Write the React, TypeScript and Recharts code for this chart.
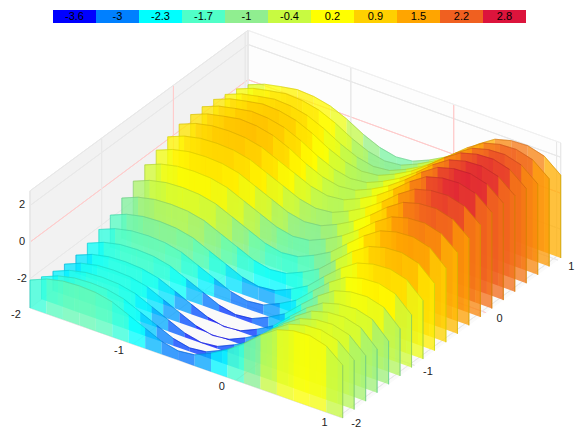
import React from 'react';
import { ComposedChart, Area, XAxis, YAxis, ReferenceArea, ReferenceDot } from 'recharts';

const xValues = [-2, -1.84, -1.68, -1.52, -1.36, -1.2, -1.04, -0.88, -0.72, -0.56, -0.4, -0.24, -0.08, 0.08, 0.24, 0.4, 0.56, 0.72, 0.88, 1.04];
const yValues = xValues;

// one row per ribbon, front (y = -2) to back
const zRows = [
  [-2.07, -1.70, -1.50, -1.45, -1.50, -1.70, -2.10, -2.50, -2.90, -3.10, -3.00, -2.60, -2.10, -1.45, -0.70, -0.10, 0.15, 0.20, -0.05, -0.77],
  [-2.37, -2.00, -1.80, -1.75, -1.80, -2.00, -2.40, -2.80, -3.20, -3.40, -3.30, -2.90, -2.40, -1.60, -0.85, -0.25, 0.00, 0.05, -0.20, -0.95],
  [-2.54, -2.17, -1.97, -1.92, -1.97, -2.17, -2.57, -2.97, -3.37, -3.57, -3.47, -3.07, -2.57, -1.75, -1.00, -0.40, -0.15, -0.10, -0.35, -1.15],
  [-2.62, -2.25, -2.05, -2.00, -2.05, -2.25, -2.65, -3.05, -3.45, -3.65, -3.55, -3.15, -2.65, -1.82, -1.05, -0.45, -0.20, -0.15, -0.40, -1.25],
  [-2.60, -2.24, -2.05, -2.00, -2.06, -2.26, -2.65, -3.05, -3.44, -3.64, -3.55, -3.15, -2.64, -1.82, -1.05, -0.46, -0.21, -0.15, -0.40, -1.27],
  [-2.42, -2.05, -1.85, -1.80, -1.85, -2.05, -2.45, -2.85, -3.25, -3.45, -3.35, -2.95, -2.45, -1.62, -0.85, -0.25, 0.00, 0.05, -0.20, -1.05],
  [-2.14, -1.77, -1.57, -1.52, -1.57, -1.77, -2.17, -2.57, -2.97, -3.17, -3.07, -2.67, -2.17, -1.35, -0.57, 0.03, 0.28, 0.33, 0.08, -0.75],
  [-1.82, -1.45, -1.25, -1.20, -1.25, -1.45, -1.85, -2.25, -2.65, -2.85, -2.75, -2.35, -1.85, -1.02, -0.25, 0.35, 0.60, 0.65, 0.40, -0.42],
  [-1.35, -0.98, -0.78, -0.73, -0.78, -0.98, -1.38, -1.78, -2.18, -2.38, -2.28, -1.88, -1.38, -0.58, 0.20, 0.80, 1.05, 1.10, 0.85, 0.05],
  [-0.89, -0.52, -0.32, -0.27, -0.32, -0.52, -0.92, -1.32, -1.72, -1.92, -1.82, -1.42, -0.92, -0.15, 0.60, 1.20, 1.45, 1.50, 1.25, 0.45],
  [-0.46, -0.09, 0.11, 0.16, 0.11, -0.09, -0.49, -0.89, -1.29, -1.49, -1.39, -0.99, -0.49, 0.16, 0.91, 1.51, 1.76, 1.81, 1.56, 0.84],
  [-0.12, 0.25, 0.45, 0.50, 0.45, 0.25, -0.15, -0.55, -0.95, -1.15, -1.05, -0.65, -0.15, 0.50, 1.25, 1.85, 2.10, 2.15, 1.90, 1.18],
  [0.15, 0.52, 0.72, 0.77, 0.72, 0.52, 0.12, -0.28, -0.68, -0.88, -0.78, -0.38, 0.12, 0.77, 1.52, 2.12, 2.37, 2.42, 2.17, 1.45],
  [0.38, 0.75, 0.95, 1.00, 0.95, 0.75, 0.35, -0.05, -0.45, -0.65, -0.55, -0.15, 0.35, 1.00, 1.75, 2.35, 2.60, 2.65, 2.40, 1.68],
  [0.44, 0.81, 1.01, 1.18, 1.13, 0.93, 0.53, 0.01, -0.39, -0.59, -0.49, -0.09, 0.41, 1.06, 1.81, 2.41, 2.66, 2.71, 2.46, 1.74],
  [0.40, 0.77, 0.97, 1.14, 1.09, 0.89, 0.49, -0.03, -0.43, -0.63, -0.53, -0.13, 0.37, 1.02, 1.77, 2.37, 2.62, 2.67, 2.42, 1.70],
  [0.33, 0.70, 0.90, 1.07, 1.02, 0.82, 0.42, -0.10, -0.50, -0.70, -0.60, -0.20, 0.30, 0.95, 1.70, 2.30, 2.55, 2.60, 2.35, 1.63],
  [0.13, 0.50, 0.70, 0.87, 0.82, 0.62, 0.22, -0.30, -0.70, -0.90, -0.80, -0.40, 0.10, 0.75, 1.50, 2.10, 2.35, 2.40, 2.15, 1.43],
  [-0.04, 0.33, 0.53, 0.70, 0.65, 0.45, 0.05, -0.47, -0.87, -1.07, -0.97, -0.57, -0.07, 0.58, 1.33, 1.93, 2.18, 2.23, 1.98, 1.26],
  [-0.29, 0.08, 0.28, 0.45, 0.40, 0.20, -0.20, -0.72, -1.12, -1.32, -1.22, -0.82, -0.32, 0.33, 1.08, 1.68, 1.93, 1.98, 1.73, 1.01],
];

const legendValues = [-3.6, -3, -2.3, -1.7, -1, -0.4, 0.2, 0.9, 1.5, 2.2, 2.8];
const legendColors = ['#0000ff', '#0080ff', '#00ffff', '#50ffc8', '#90ee90', '#c8fa41', '#ffff00', '#ffd000', '#ffa500', '#f06020', '#dc143c'];

const xTicks = [-2, -1, 0, 1];
const yTicks = [-2, -1, 0, 1];
const zTicks = [-2, 0, 2];

const W = 582;
const H = 437;
const X_MIN = -2;
const SPAN = 3.04;
const Z_MIN = -3.6;
const Z_MAX = 2.8;

// floor corners and vertical scale of the 3d box as seen on screen
const A = { x: 30, y: 308, s: 18.3 };
const B = { x: 342.7, y: 418, s: 18.7 };
const C = { x: 560.7, y: 258, s: 18 };
const D = { x: 248, y: 143, s: 17.6 };

function bilerp(u: number, v: number, key: 'x' | 'y' | 's') {
  return (A[key] * (1 - u) + B[key] * u) * (1 - v) + (D[key] * (1 - u) + C[key] * u) * v;
}

function project(x: number, y: number, z: number) {
  const u = (x - X_MIN) / SPAN;
  const v = (y - X_MIN) / SPAN;
  return { px: bilerp(u, v, 'x'), py: bilerp(u, v, 'y') - (z - Z_MIN) * bilerp(u, v, 's') };
}

function hexToRgb(hex: string) {
  return [1, 3, 5].map((i) => parseInt(hex.slice(i, i + 2), 16));
}

function colorFor(z: number, shade = 1) {
  let k = 0;
  while (k < legendValues.length - 2 && z > legendValues[k + 1]) k++;
  const t = Math.max(0, Math.min(1, (z - legendValues[k]) / (legendValues[k + 1] - legendValues[k])));
  const c0 = hexToRgb(legendColors[k]);
  const c1 = hexToRgb(legendColors[k + 1]);
  const rgb = c0.map((c, i) => Math.round((c + (c1[i] - c) * t) * shade));
  return `rgb(${rgb[0]},${rgb[1]},${rgb[2]})`;
}

type Pt = { px: number; band: [number, number] };

// a straight line drawn as a zero-height area so it keeps its paint order
function line3d(a: [number, number, number], b: [number, number, number]): Pt[] {
  const p = project(...a);
  const q = project(...b);
  return [
    { px: p.px, band: [p.py, p.py] },
    { px: q.px, band: [q.py, q.py] },
  ];
}

const renderEdge = (key: string, data: Pt[], stroke: string, opacity = 1) => (
  <Area key={key} data={data} dataKey="band" type="linear" fill="none" stroke={stroke} strokeWidth={1} strokeOpacity={opacity} dot={false} activeDot={false} isAnimationActive={false} />
);

const renderPoly = (key: string, data: Pt[], fill: string, opacity = 1) => (
  <Area key={key} data={data} dataKey="band" type="linear" fill={fill} fillOpacity={opacity} stroke="none" dot={false} activeDot={false} isAnimationActive={false} />
);

function wallQuad(a: { px: number; py: number }, b: { px: number; py: number }, c: { px: number; py: number }, d: { px: number; py: number }): Pt[] {
  return [
    { px: a.px, band: [a.py, b.py] },
    { px: c.px, band: [c.py, d.py] },
  ];
}

function floorPoly(): Pt[] {
  const lerp = (p: { x: number; y: number }, q: { x: number; y: number }, x: number) => p.y + ((q.y - p.y) * (x - p.x)) / (q.x - p.x);
  return [
    { px: A.x, band: [A.y, A.y] },
    { px: D.x, band: [lerp(A, B, D.x), D.y] },
    { px: B.x, band: [B.y, lerp(D, C, B.x)] },
    { px: C.x, band: [C.y, C.y] },
  ];
}

const X_END = xValues[xValues.length - 1];
const GRID = '#e8e8e8';
const ZERO = '#ffcccc';

function boxParts() {
  const parts: React.ReactNode[] = [];
  const lo = Z_MIN;
  const hi = Z_MAX;
  parts.push(renderPoly('wall-left', wallQuad(project(-2, -2, lo), project(-2, -2, hi), project(-2, X_END, lo), project(-2, X_END, hi)), '#f2f2f2'));
  parts.push(renderPoly('wall-back', wallQuad(project(-2, X_END, lo), project(-2, X_END, hi), project(X_END, X_END, lo), project(X_END, X_END, hi)), '#fdfdfd'));
  parts.push(renderPoly('floor', floorPoly(), '#fafafa'));
  zTicks.forEach((z) => {
    const c = z === 0 ? ZERO : GRID;
    parts.push(renderEdge(`zl${z}`, line3d([-2, -2, z], [-2, X_END, z]), c));
    parts.push(renderEdge(`zb${z}`, line3d([-2, X_END, z], [X_END, X_END, z]), c));
  });
  yTicks.forEach((y) => {
    const c = y === 0 ? ZERO : GRID;
    parts.push(renderEdge(`yw${y}`, line3d([-2, y, lo], [-2, y, hi]), c));
    parts.push(renderEdge(`yf${y}`, line3d([-2, y, lo], [X_END, y, lo]), c));
  });
  xTicks.forEach((x) => {
    const c = x === 0 ? ZERO : GRID;
    parts.push(renderEdge(`xw${x}`, line3d([x, X_END, lo], [x, X_END, hi]), c));
    parts.push(renderEdge(`xf${x}`, line3d([x, -2, lo], [x, X_END, lo]), c));
  });
  // box outline
  parts.push(renderEdge('o1', line3d([-2, -2, lo], [-2, -2, hi]), GRID));
  parts.push(renderEdge('o2', line3d([-2, -2, hi], [-2, X_END, hi]), GRID));
  parts.push(renderEdge('o3', line3d([-2, X_END, hi], [X_END, X_END, hi]), '#f0f0f0'));
  parts.push(renderEdge('o4', line3d([-2, X_END, lo], [-2, X_END, hi]), GRID));
  parts.push(renderEdge('o5', line3d([X_END, X_END, lo], [X_END, X_END, hi]), GRID));
  return parts;
}

function ribbonParts() {
  const parts: React.ReactNode[] = [];
  for (let i = yValues.length - 1; i >= 0; i--) {
    const y = yValues[i];
    const row = zRows[i];
    for (let j = 0; j < xValues.length - 1; j++) {
      const x0 = xValues[j];
      const x1 = xValues[j + 1];
      const z0 = row[j];
      const z1 = row[j + 1];
      const b0 = project(x0, y, Z_MIN);
      const t0 = project(x0, y, z0);
      const b1 = project(x1, y, Z_MIN);
      const t1 = project(x1, y, z1);
      const mid = (z0 + z1) / 2;
      parts.push(renderPoly(`c${i}-${j}`, wallQuad(b0, t0, b1, t1), colorFor(mid), 0.76));
      parts.push(renderEdge(`t${i}-${j}`, line3d([x0, y, z0], [x1, y, z1]), colorFor(mid, 0.85), 0.45));
    }
    const last = xValues.length - 1;
    parts.push(renderEdge(`r${i}`, line3d([xValues[last], y, Z_MIN], [xValues[last], y, row[last]]), colorFor(row[last], 0.85), 0.6));
    parts.push(renderEdge(`l${i}`, line3d([xValues[0], y, Z_MIN], [xValues[0], y, row[0]]), colorFor(row[0], 0.85), 0.4));
  }
  return parts;
}

const LEGEND_LEFT = 53;
const LEGEND_CELL = 43;
const labelFont = { fontSize: 11, fontFamily: 'Liberation Sans, Arial, sans-serif', fill: '#222' };

export default function App() {
  return (
    <div style={{ position: 'absolute', left: 0, top: 0, width: W, height: H, background: '#fff', opacity: 0.999 }}>
      <ComposedChart width={W} height={H} margin={{ top: 0, right: 0, bottom: 0, left: 0 }}>
        <XAxis type="number" dataKey="px" domain={[0, W]} hide allowDataOverflow />
        <YAxis type="number" domain={[0, H]} reversed hide allowDataOverflow />
        {boxParts()}
        {ribbonParts()}
        {legendValues.map((v, k) => (
          <ReferenceArea
            key={`legend${k}`}
            x1={LEGEND_LEFT + k * LEGEND_CELL}
            x2={LEGEND_LEFT + (k + 1) * LEGEND_CELL}
            y1={10}
            y2={23}
            fill={legendColors[k]}
            fillOpacity={1}
            stroke="none"
            label={{ value: String(v), position: 'center', ...labelFont, fill: '#000' }}
          />
        ))}
        {zTicks.map((z) => {
          const p = project(-2, -2, z);
          return <ReferenceDot key={`zt${z}`} x={p.px - 8} y={p.py - 1} r={0} stroke="none" fill="none" label={{ value: String(z), position: 'center', ...labelFont }} />;
        })}
        {xTicks.map((x) => {
          const p = project(x, -2, Z_MIN);
          return <ReferenceDot key={`xt${x}`} x={p.px - 14} y={p.py + 6} r={0} stroke="none" fill="none" label={{ value: String(x), position: 'center', ...labelFont }} />;
        })}
        {yTicks.map((y) => {
          const p = project(X_END, y, Z_MIN);
          return <ReferenceDot key={`yt${y}`} x={p.px + 13.5} y={p.py + 5.5} r={0} stroke="none" fill="none" label={{ value: String(y), position: 'center', ...labelFont }} />;
        })}
      </ComposedChart>
    </div>
  );
}
